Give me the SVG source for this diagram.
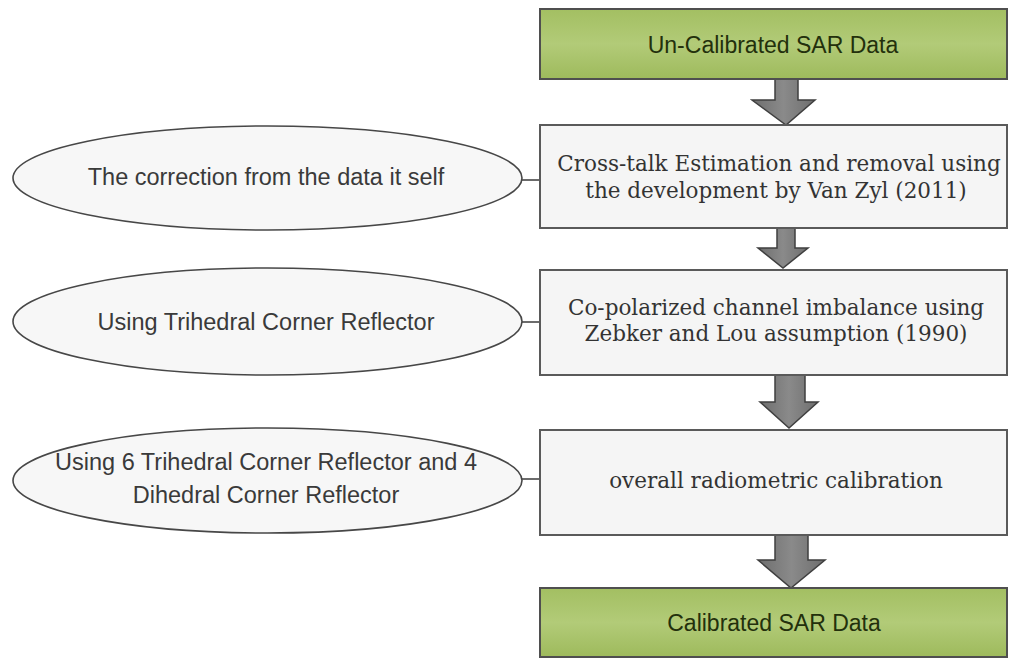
<svg xmlns="http://www.w3.org/2000/svg" width="1010" height="662" viewBox="0 0 1010 662">
<defs>
<linearGradient id="gGreen" x1="0" y1="0" x2="0" y2="1">
<stop offset="0" stop-color="#a3bf62"/>
<stop offset="0.5" stop-color="#b2cb78"/>
<stop offset="1" stop-color="#9eba5c"/>
</linearGradient>
<linearGradient id="gArrow" x1="0" y1="0" x2="1" y2="0">
<stop offset="0" stop-color="#6e6e6e"/>
<stop offset="0.5" stop-color="#8a8a8a"/>
<stop offset="1" stop-color="#6e6e6e"/>
</linearGradient>
</defs>
<style>
.green{fill:url(#gGreen);stroke:#4f4f4f;stroke-width:2}
.box{fill:#f5f5f5;stroke:#5a5a5a;stroke-width:2}
.ell{fill:#f7f7f7;stroke:#474747;stroke-width:1.6}
.arrow{fill:url(#gArrow);stroke:#3f3f3f;stroke-width:1.5;stroke-linejoin:miter}
.link{stroke:#474747;stroke-width:1.6;fill:none}
.gt{font-family:"Liberation Sans",Arial,sans-serif;font-size:23px;fill:#23300c;text-anchor:middle}
.st{font-family:"DejaVu Serif","Liberation Serif",serif;font-size:21.5px;fill:#333;text-anchor:middle}
.et{font-family:"Liberation Sans",Arial,sans-serif;font-size:23.5px;fill:#3a3a3a;text-anchor:middle}
</style>
<rect width="1010" height="662" fill="#ffffff"/>
<g id="connectors">
<line class="link" x1="522" y1="180" x2="540" y2="180"/>
<line class="link" x1="522" y1="322" x2="540" y2="322"/>
<line class="link" x1="522" y1="479" x2="540" y2="479"/>
<path class="arrow" d="M775,79 H798 V100 H815 L786,125 L752,100 H775 Z"/>
<path class="arrow" d="M777,228 H795 V248 H808 L783,268 L758,248 H777 Z"/>
<path class="arrow" d="M775,375 H805 V402 H818 L789,428 L760,402 H775 Z"/>
<path class="arrow" d="M775,535 H808 V560 H825 L791,588 L758,560 H775 Z"/>
</g>
<g id="node-uncal">
<rect class="green" x="540" y="9" width="467" height="70"/>
<text class="gt" x="773" y="53">Un-Calibrated SAR Data</text>
</g>
<g id="node-crosstalk">
<rect class="box" x="540" y="125" width="467" height="103"/>
<text class="st" x="779" y="171">Cross-talk Estimation and removal using</text>
<text class="st" x="776" y="198">the development by Van Zyl (2011)</text>
</g>
<g id="node-copol">
<rect class="box" x="540" y="270" width="467" height="105"/>
<text class="st" x="776" y="315">Co-polarized channel imbalance using</text>
<text class="st" x="776" y="341">Zebker and Lou assumption (1990)</text>
</g>
<g id="node-overall">
<rect class="box" x="540" y="430" width="467" height="105"/>
<text class="st" x="776" y="488">overall radiometric calibration</text>
</g>
<g id="node-cal">
<rect class="green" x="540" y="588" width="467" height="69"/>
<text class="gt" x="774" y="631">Calibrated SAR Data</text>
</g>
<g id="ell-data">
<ellipse class="ell" cx="267.5" cy="178" rx="254.5" ry="52"/>
<text class="et" x="266" y="185">The correction from the data it self</text>
</g>
<g id="ell-trihedral">
<ellipse class="ell" cx="267.5" cy="321.5" rx="254.5" ry="53.5"/>
<text class="et" x="266" y="330">Using Trihedral Corner Reflector</text>
</g>
<g id="ell-six">
<ellipse class="ell" cx="267.5" cy="480.5" rx="254.5" ry="52.5"/>
<text class="et" x="266" y="470">Using 6 Trihedral Corner Reflector and 4</text>
<text class="et" x="266" y="503">Dihedral Corner Reflector</text>
</g>
</svg>
